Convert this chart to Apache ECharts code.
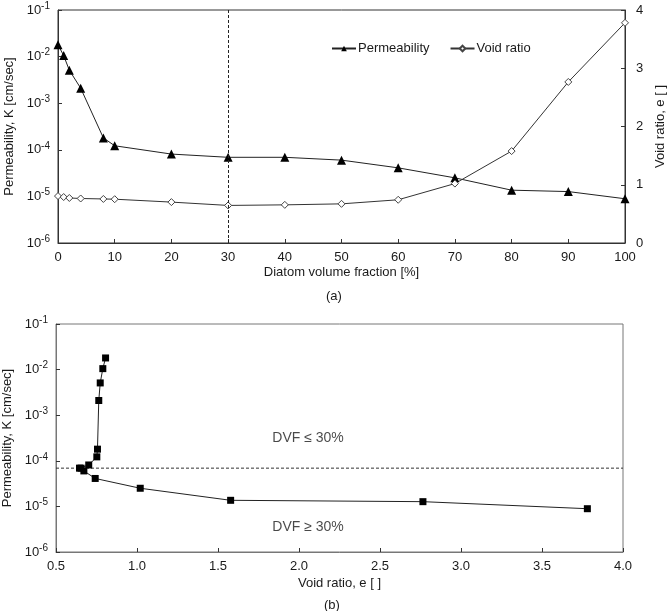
<!DOCTYPE html>
<html><head><meta charset="utf-8">
<script src="https://cdn.jsdelivr.net/npm/echarts@6/dist/echarts.min.js"></script>
<style>html,body{margin:0;padding:0;background:#fff}#c{width:669px;height:611px}</style>
</head><body><div id="c"></div>
<script>
// Data
const dvf = [0, 1, 2, 4, 8, 10, 20, 30, 40, 50, 60, 70, 80, 90, 100];
const permeability = [1.8e-2, 1.05e-2, 5.1e-3, 2.1e-3, 1.8e-4, 1.22e-4, 8.1e-5, 6.9e-5, 6.9e-5, 6.0e-5, 4.1e-5, 2.5e-5, 1.36e-5, 1.27e-5, 8.9e-6];
const voidRatio = [0.806, 0.789, 0.773, 0.764, 0.756, 0.752, 0.702, 0.645, 0.655, 0.672, 0.742, 1.02, 1.578, 2.765, 3.78];
const dvfThreshold = 30;
const kThreshold = 6.9e-5;
const xTicksTop = [0, 100, 10];
const xTicksBottom = [0.5, 4.0, 0.5];
const voidTicks = [0, 4, 1];
const annotations = [
  {text: 'DVF \u2264 30%', e: 1.835, k: 3.2e-4},
  {text: 'DVF \u2265 30%', e: 1.835, k: 3.5e-6}
];

const FONT = "'Liberation Sans', Arial, sans-serif";
const TXT = '#1a1a1a';
const logFmt = v => '10{sup|' + Math.round(Math.log10(v)) + '}';
const logLabel = {
  color: TXT, fontFamily: FONT, fontSize: 13, margin: 8,
  formatter: logFmt,
  rich: { sup: { fontSize: 10, fontFamily: FONT, color: TXT, padding: [0, 0, 8, 0] } }
};
const baseAxis = {
  axisLine: { show: true, lineStyle: { color: '#333', width: 1 } },
  axisTick: { show: true, inside: true, length: 4, lineStyle: { color: '#333' } },
  splitLine: { show: false },
  nameTextStyle: { color: TXT, fontFamily: FONT, fontSize: 13 }
};

const chart = echarts.init(document.getElementById('c'), null, { renderer: 'canvas' });
const option = {
  animation: false,
  backgroundColor: '#fff',
  textStyle: { fontFamily: FONT },
  grid: [
    { left: 58, right: 44, top: 10, height: 233, show: true, borderColor: '#333', borderWidth: 1, containLabel: false, outerBoundsMode: 'none' },
    { left: 56, right: 46, top: 324, height: 228, show: true, borderColor: '#777', borderWidth: 1, containLabel: false, outerBoundsMode: 'none' }
  ],
  legend: {
    left: 326, top: 37, itemGap: 20, itemWidth: 24, itemHeight: 7,
    textStyle: { color: TXT, fontFamily: FONT, fontSize: 13, padding: [0, 0, 0, -3] },
    data: ['Permeability', 'Void ratio']
  },
  xAxis: [
    Object.assign({}, baseAxis, {
      gridIndex: 0, type: 'value', min: xTicksTop[0], max: xTicksTop[1], interval: xTicksTop[2],
      name: 'Diatom volume fraction [%]', nameLocation: 'middle', nameGap: 23,
      axisLabel: { color: TXT, fontFamily: FONT, fontSize: 13, margin: 8 }
    }),
    Object.assign({}, baseAxis, {
      gridIndex: 1, type: 'value', min: xTicksBottom[0], max: xTicksBottom[1], interval: xTicksBottom[2],
      name: 'Void ratio, e [ ]', nameLocation: 'middle', nameGap: 25,
      axisLine: { show: true, lineStyle: { color: '#777', width: 1 } },
      axisLabel: { color: TXT, fontFamily: FONT, fontSize: 13, margin: 8, formatter: v => v.toFixed(1) }
    })
  ],
  yAxis: [
    Object.assign({}, baseAxis, {
      gridIndex: 0, type: 'log', logBase: 10, min: 1e-6, max: 1e-1,
      name: 'Permeability, K [cm/sec]', nameLocation: 'middle', nameGap: 40, nameRotate: 90,
      axisLabel: logLabel
    }),
    Object.assign({}, baseAxis, {
      gridIndex: 0, type: 'value', position: 'right', min: voidTicks[0], max: voidTicks[1], interval: voidTicks[2],
      name: 'Void ratio, e [ ]', nameLocation: 'middle', nameGap: 22, nameRotate: 90,
      axisLabel: { color: TXT, fontFamily: FONT, fontSize: 13, margin: 11 }
    }),
    Object.assign({}, baseAxis, {
      gridIndex: 1, type: 'log', logBase: 10, min: 1e-6, max: 1e-1,
      name: 'Permeability, K [cm/sec]', nameLocation: 'middle', nameGap: 40, nameRotate: 90,
      axisLine: { show: true, lineStyle: { color: '#777', width: 1 } },
      axisLabel: logLabel
    })
  ],
  series: [
    {
      name: 'Permeability', type: 'line', xAxisIndex: 0, yAxisIndex: 0,
      data: dvf.map((d, i) => [d, permeability[i]]),
      symbol: 'triangle', symbolSize: 9,
      lineStyle: { color: '#222', width: 1 },
      itemStyle: { color: '#000', borderColor: '#000', borderWidth: 0 },
      markLine: {
        silent: true, symbol: 'none', label: { show: false },
        lineStyle: { color: '#222', type: [3, 2], width: 1 },
        data: [{ xAxis: dvfThreshold }]
      }
    },
    {
      name: 'Void ratio', type: 'line', xAxisIndex: 0, yAxisIndex: 1,
      data: dvf.map((d, i) => [d, voidRatio[i]]),
      symbol: 'diamond', symbolSize: 7,
      lineStyle: { color: '#333', width: 1 },
      itemStyle: { color: '#fff', borderColor: '#444', borderWidth: 1 }
    },
    {
      name: 'threshold', type: 'line', xAxisIndex: 1, yAxisIndex: 2,
      data: [[xTicksBottom[0], kThreshold], [xTicksBottom[1], kThreshold]],
      symbol: 'none', silent: true,
      lineStyle: { color: '#333', type: [3, 2], width: 1 }
    },
    {
      name: 'K vs e', type: 'line', xAxisIndex: 1, yAxisIndex: 2,
      data: voidRatio.map((e, i) => [e, permeability[i]]),
      symbol: 'rect', symbolSize: 7,
      lineStyle: { color: '#222', width: 1 },
      itemStyle: { color: '#000' }
    },
    {
      name: 'annot', type: 'scatter', xAxisIndex: 1, yAxisIndex: 2,
      symbolSize: 0, silent: true,
      data: annotations.map(a => ({ value: [a.e, a.k], label: { formatter: a.text } })),
      label: { show: true, position: 'right', distance: 0, color: TXT, fontFamily: FONT, fontSize: 14 }
    }
  ],
  graphic: [
    { type: 'text', left: 326, top: 290, style: { text: '(a)', fill: TXT, font: "13px " + FONT } },
    { type: 'text', left: 324, top: 599, style: { text: '(b)', fill: TXT, font: "13px " + FONT } }
  ]
};
chart.setOption(option);
</script></body></html>
